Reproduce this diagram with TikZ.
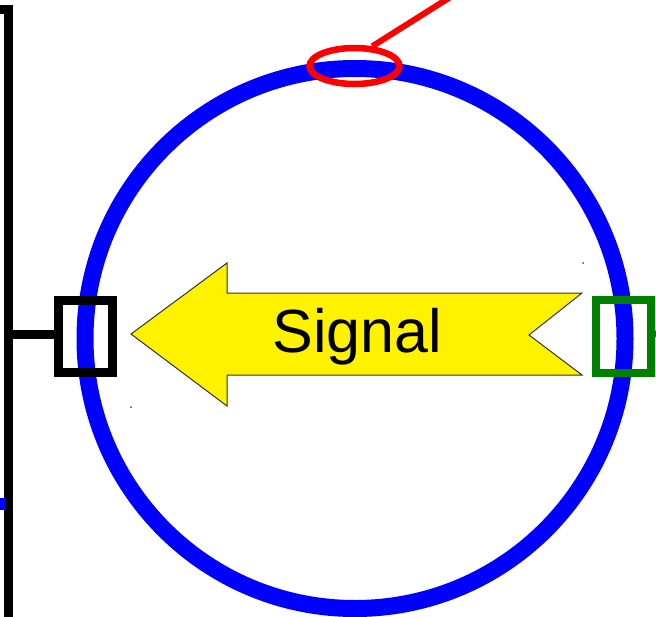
\documentclass[tikz,border=0pt]{standalone}
\usepackage{fontspec}
\setmainfont{Liberation Sans}
\usetikzlibrary{shapes.geometric}

\tikzset{
    kasten/.style={draw, rectangle, inner sep=0pt, minimum width=54pt, minimum height=72pt, line width=9pt},
    leitung/.style={line width=9pt},
    marke/.style={draw=red, ellipse, line width=6.5pt, inner sep=0pt, minimum width=90pt, minimum height=36pt},
    pfeil/.style={fill=yellow, draw=black!80, line width=1pt, line join=miter},
    punkt/.style={circle, fill=black!70, inner sep=0pt, minimum size=2pt}
}

\begin{document}
\begin{tikzpicture}[x=1pt, y=-1pt]
    \useasboundingbox (0,0) rectangle (656,616);
    \draw[blue, line width=17pt] (355,338.5) circle[radius=270pt];
    \path node[kasten, draw=black] (links) at (85.5,336.5) {}
        node[kasten, draw=green!50!black, line width=8pt, minimum width=55pt, minimum height=73pt] (rechts) at (623.5,336.5) {}
        node[marke] (ring) at (354.5,66) {}
        node[punkt] (p1) at (131,407) {}
        node[punkt] (p2) at (583,263) {};
    \coordinate (oben) at (0,9);
    \coordinate (ecke) at (8.5,9);
    \coordinate (unten) at (8.5,625);
    \coordinate (abzweig) at (8.5,334.5);
    \coordinate (aus) at (662,330);
    \coordinate (zeiger) at (452,-4);
    \draw[leitung] (oben) -- (ecke) -- (unten);
    \draw[leitung] (abzweig) -- (abzweig -| links.west);
    \draw[green!50!black, line width=8pt] (rechts.east) -- (aus);
    \draw[blue, line width=12pt] (-6,504) -- (5,504);
    \draw[red, line width=6pt] (ring.48) -- (zeiger);
    \draw[pfeil] (131,334) -- (227,263) -- (227,293) -- (582,293) -- (529,335)
        -- (582,375) -- (227,375) -- (227,406) -- cycle;
    \node[anchor=base, font=\fontsize{61}{70}\selectfont, inner sep=0pt] (signal) at (357.5,352) {Signal};
\end{tikzpicture}
\end{document}
